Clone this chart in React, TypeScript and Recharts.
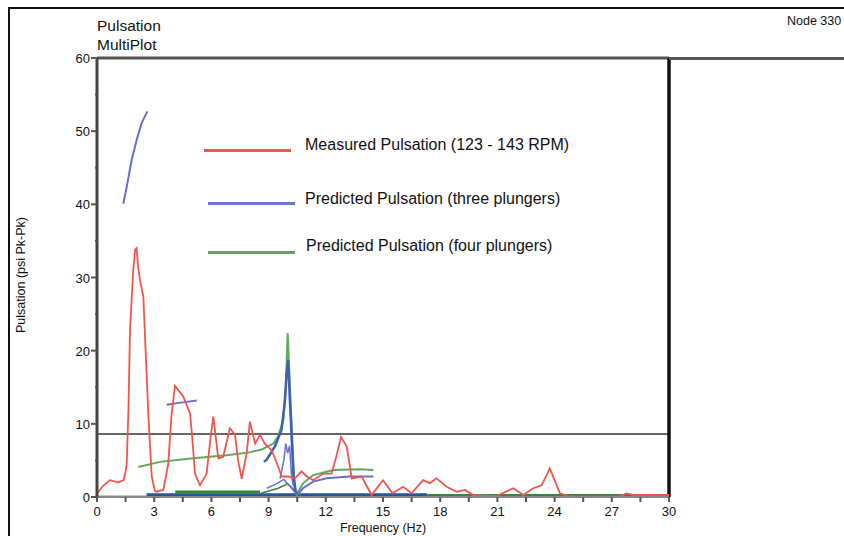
import React from 'react';
import { LineChart, Line, XAxis, YAxis, ReferenceLine, Legend, Label } from 'recharts';

// Measured pulsation (red)
const measuredHz = [0, 0.07, 0.35, 0.68, 1.12, 1.4, 1.5, 1.56, 1.65, 1.73, 1.9, 2.0, 2.08, 2.15, 2.25, 2.43, 2.55, 2.69, 2.87, 3.04, 3.13, 3.48, 3.74, 3.9, 4.09, 4.3, 4.53, 4.88, 5.0, 5.14, 5.4, 5.75, 5.95, 6.1, 6.36, 6.62, 6.97, 7.24, 7.4, 7.59, 7.85, 8.02, 8.29, 8.55, 8.8, 9.16, 9.51, 9.68, 10.03, 10.38, 10.73, 11.0, 11.34, 11.87, 12.3, 12.55, 12.8, 13.1, 13.36, 13.88, 14.4, 15.0, 15.5, 16.06, 16.5, 17.1, 17.46, 17.8, 18.34, 18.86, 19.3, 19.73, 20.96, 21.83, 22.36, 22.88, 23.32, 23.75, 24.28, 24.8, 27.4, 27.77, 28.1, 30];
const measuredPsi = [0.5, 0.72, 1.6, 2.3, 2.0, 2.3, 3.5, 4.6, 12, 22.8, 31, 33.8, 34.0, 31.5, 29.7, 27.4, 20, 11.4, 2.8, 0.8, 0.72, 0.96, 4.6, 11, 15.2, 14.5, 13.7, 11.4, 8, 3.2, 1.6, 3.2, 8, 11.0, 5.3, 5.5, 9.4, 8.5, 5, 2.5, 6.0, 10.3, 7.3, 8.5, 7.3, 6.4, 4.1, 2.8, 2.8, 2.55, 3.5, 2.8, 2.3, 3.2, 3.2, 5.5, 8.2, 6.9, 2.55, 2.8, 0.27, 2.3, 0.5, 1.4, 0.5, 2.3, 1.9, 2.55, 1.4, 0.72, 0.96, 0.27, 0.14, 1.2, 0.27, 1.2, 1.6, 3.9, 0.5, 0.04, 0.04, 0.5, 0.3, 0.3];

// Predicted pulsation, three plungers (blue)
const threeCurveHz = [1.38, 1.56, 1.82, 2.08, 2.34, 2.64];
const threeCurvePsi = [40.1, 42.4, 46.1, 48.8, 51.1, 52.7];
const threeStepHz = [3.65, 4.4, 5.23];
const threeStepPsi = [12.6, 12.9, 13.2];
const threePeakHz = [8.75, 8.9, 9.33, 9.68, 9.85, 9.95, 10.03, 10.12, 10.2, 10.3, 10.45];
const threePeakPsi = [4.8, 5.1, 6.9, 9.2, 13, 17, 18.7, 13, 8.7, 3, 0.3];
const threeTailHz = [10.5, 10.8, 11.34, 12.04, 13.25, 14.5];
const threeTailPsi = [0.3, 1.2, 2.1, 2.55, 2.8, 2.8];
const threeSideHz = [9.6, 9.8, 9.9, 10.0, 10.1, 10.2, 10.3];
const threeSidePsi = [2.5, 5, 7.3, 6, 7, 3, 1.5];
const threeHumpHz = [8.9, 9.4, 9.8, 10.1, 10.5];
const threeHumpPsi = [1.2, 1.8, 2.4, 1.5, 0.3];
const threeBaseHz = [2.6, 17.3];
const threeBasePsi = [0.3, 0.3];

// Predicted pulsation, four plungers (green)
const fourPeakHz = [2.17, 3.3, 5.05, 6.8, 8.0, 8.64, 9.25, 9.5, 9.77, 9.9, 10.0, 10.12, 10.3, 10.38, 10.5];
const fourPeakPsi = [4.1, 4.8, 5.3, 5.7, 6.1, 6.5, 7.3, 8.3, 10.5, 15, 22.4, 15, 4.6, 0.5, 0.2];
const fourTailHz = [10.5, 10.82, 11.34, 12.4, 13.8, 14.5];
const fourTailPsi = [0.5, 1.9, 3.0, 3.7, 3.8, 3.7];
const fourHumpHz = [8.6, 9.5, 10.0, 10.4, 10.7];
const fourHumpPsi = [0.5, 1.2, 1.8, 0.8, 0.2];
const fourBandHz = [4.1, 8.55];
const fourBandPsi = [0.7, 0.7];
const fourBaseHz = [17.3, 30];
const fourBasePsi = [0.2, 0.2];
const fourFloorHz = [0, 30];
const fourFloorPsi = [0.1, 0.1];

const xTicks = [0, 1.5, 3, 4.5, 6, 7.5, 9, 10.5, 12, 13.5, 15, 16.5, 18, 19.5, 21, 22.5, 24, 25.5, 27, 28.5, 30];
const yTicks = [0, 5, 10, 15, 20, 25, 30, 35, 40, 45, 50, 55, 60];

const legendNames = ['Measured Pulsation (123 - 143 RPM)', 'Predicted Pulsation (three plungers)', 'Predicted Pulsation (four plungers)'];
const legendColors = ['#f2554d', '#6f73cc', '#6a9e6a'];

const RED = '#f2554d';
const BLUE = '#6a6ed0';
const DARK_BLUE = '#24559e';
const GREEN = '#5eaa5e';
const DARK_GREEN = '#2f8a3c';
const FONT = '"Liberation Sans", Arial, sans-serif';

const zip = (hz: number[], psi: number[]) => hz.map((x, i) => ({ x, y: psi[i] }));

const XTick = (props: any) => {
  const { x, y, payload } = props;
  const v = payload.value;
  const major = v % 3 === 0;
  return (
    <g>
      <line x1={x} x2={x} y1={y} y2={y + 5} stroke="#555" strokeWidth={2} />
      {major && (
        <text x={x} y={y + 19} textAnchor="middle" fontSize={13} fill="#111" fontFamily={FONT}>
          {v}
        </text>
      )}
    </g>
  );
};

const YTick = (props: any) => {
  const { x, y, payload } = props;
  const v = payload.value;
  const major = v % 10 === 0;
  return (
    <g>
      <line x1={major ? x - 6 : x - 2} x2={x} y1={y} y2={y} stroke="#555" strokeWidth={2} />
      {major && (
        <text x={x - 7} y={y + 5} textAnchor="end" fontSize={13} fill="#111" fontFamily={FONT}>
          {v}
        </text>
      )}
    </g>
  );
};

const LegendBox = () => {
  const rows = [
    { lx: 204, ly: 150, tx: 305, ty: 136 },
    { lx: 208, ly: 203, tx: 305, ty: 190 },
    { lx: 208, ly: 252, tx: 306, ty: 237 },
  ];
  return (
    <div style={{ position: 'relative', width: 844, height: 536, pointerEvents: 'none' }}>
      {legendNames.map((name, i) => (
        <React.Fragment key={name}>
          <div style={{ position: 'absolute', left: rows[i].lx, top: rows[i].ly - 1.5, width: 87, height: 3, background: legendColors[i] }} />
          <div style={{ position: 'absolute', left: rows[i].tx, top: rows[i].ty, fontSize: 16, fontFamily: FONT, color: '#111', whiteSpace: 'nowrap' }}>
            {name}
          </div>
        </React.Fragment>
      ))}
    </div>
  );
};

const series = [
  { key: 'four-floor', data: zip(fourFloorHz, fourFloorPsi), color: GREEN, w: 1.5 },
  { key: 'four-base', data: zip(fourBaseHz, fourBasePsi), color: DARK_GREEN, w: 3 },
  { key: 'three-base', data: zip(threeBaseHz, threeBasePsi), color: DARK_BLUE, w: 3 },
  { key: 'four-band', data: zip(fourBandHz, fourBandPsi), color: DARK_GREEN, w: 3 },
  { key: 'four-peak', data: zip(fourPeakHz, fourPeakPsi), color: GREEN, w: 2 },
  { key: 'four-tail', data: zip(fourTailHz, fourTailPsi), color: GREEN, w: 2 },
  { key: 'four-hump', data: zip(fourHumpHz, fourHumpPsi), color: DARK_GREEN, w: 1.5 },
  { key: 'three-curve', data: zip(threeCurveHz, threeCurvePsi), color: BLUE, w: 2 },
  { key: 'three-step', data: zip(threeStepHz, threeStepPsi), color: BLUE, w: 2 },
  { key: 'three-peak', data: zip(threePeakHz, threePeakPsi), color: '#3f5fb0', w: 2.5 },
  { key: 'three-side', data: zip(threeSideHz, threeSidePsi), color: BLUE, w: 1.5 },
  { key: 'three-hump', data: zip(threeHumpHz, threeHumpPsi), color: BLUE, w: 1.5 },
  { key: 'three-tail', data: zip(threeTailHz, threeTailPsi), color: BLUE, w: 2 },
  { key: 'measured', data: zip(measuredHz, measuredPsi), color: RED, w: 1.8 },
];

export default function App() {
  return (
    <div style={{ position: 'absolute', left: 0, top: 0, width: 844, height: 536, background: '#fff', fontFamily: FONT, overflow: 'hidden' }}>
      <div style={{ position: 'absolute', left: 8, top: 7, width: 840, height: 540, borderLeft: '2px solid #111', borderTop: '2px solid #111' }} />
      <div style={{ position: 'absolute', left: 97, top: 16, fontSize: 15.5, lineHeight: '19px', color: '#111' }}>
        Pulsation
        <br />
        MultiPlot
      </div>
      <div style={{ position: 'absolute', left: 787, top: 14, fontSize: 12.5, color: '#111', whiteSpace: 'nowrap' }}>Node 330</div>
      <LineChart width={844} height={536} margin={{ top: 58, right: 175, bottom: 9, left: 57 }} style={{ position: 'absolute', left: 0, top: 0 }}>
        <XAxis
          dataKey="x"
          type="number"
          domain={[0, 30]}
          ticks={xTicks}
          interval={0}
          allowDataOverflow
          tickSize={0}
          tickMargin={0}
          tick={<XTick />}
          axisLine={{ stroke: '#888', strokeWidth: 2 }}
        >
          <Label
            content={() => (
              <text x={383} y={532} textAnchor="middle" fontSize={12.5} fill="#111" fontFamily={FONT}>
                Frequency (Hz)
              </text>
            )}
          />
        </XAxis>
        <YAxis
          dataKey="y"
          type="number"
          domain={[0, 60]}
          ticks={yTicks}
          interval={0}
          width={40}
          tickSize={0}
          tickMargin={0}
          tick={<YTick />}
          axisLine={{ stroke: '#444', strokeWidth: 3 }}
        >
          <Label
            content={() => (
              <text x={25} y={275} transform="rotate(-90 25 275)" textAnchor="middle" fontSize={12.5} fill="#111" fontFamily={FONT}>
                Pulsation (psi Pk-Pk)
              </text>
            )}
          />
        </YAxis>
        <ReferenceLine y={60} stroke="#555" strokeWidth={3} />
        <ReferenceLine y={8.6} stroke="#333" strokeWidth={1.5} />
        <ReferenceLine x={30} stroke="#111" strokeWidth={3.5} />
        {series.map((s) => (
          <Line
            key={s.key}
            data={s.data}
            dataKey="y"
            type="linear"
            stroke={s.color}
            strokeWidth={s.w}
            dot={false}
            activeDot={false}
            legendType="none"
            isAnimationActive={false}
          />
        ))}
        <Legend layout="vertical" align="center" verticalAlign="middle" wrapperStyle={{ left: 0, top: 0, width: 844, height: 536 }} content={() => <LegendBox />} />
      </LineChart>
      <div style={{ position: 'absolute', left: 669, top: 57, width: 175, height: 3, background: '#555' }} />
    </div>
  );
}
